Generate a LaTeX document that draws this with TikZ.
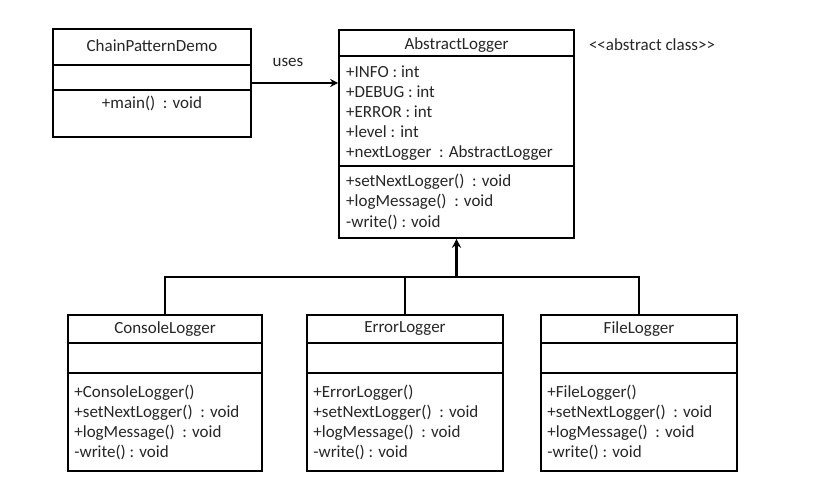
\documentclass[tikz,border=0pt]{standalone}
\usepackage{fontspec}
\setmainfont{Carlito}
\usetikzlibrary{arrows.meta}
\definecolor{txt}{HTML}{262626}
\tikzset{
  box/.style={draw=black, line width=1.6pt, fill=white, inner sep=0pt},
  divider/.style={draw=black, line width=1.6pt},
  title/.style={text=txt, font=\fontsize{17}{20}\selectfont, inner sep=0pt},
  member/.style={text=txt, font=\fontsize{17}{20}\selectfont, inner sep=0pt, anchor=west},
  conn/.style={draw=black, line width=1.7pt},
}
\begin{document}
\begin{tikzpicture}[x=1pt,y=-1pt]
\useasboundingbox (0,0) rectangle (814,494);
% ChainPatternDemo
\node[box, minimum width=198pt, minimum height=108pt] (demo) at (152,83) {};
\draw[divider] (demo.west |- 0,65) -- (demo.east |- 0,65);
\draw[divider] (demo.west |- 0,90) -- (demo.east |- 0,90);
\node[title] (demoT) at (152,46) {ChainPatternDemo};
\node[title] (demoM) at (152,103) {+main()\ \ : void};
% AbstractLogger
\node[box, minimum width=235pt, minimum height=208pt] (abs) at (456.5,134) {};
\draw[divider] (abs.west |- 0,56) -- (abs.east |- 0,56);
\draw[divider] (abs.west |- 0,166) -- (abs.east |- 0,166);
\node[title] (absT) at (456.5,45) {AbstractLogger};
\node[member] (a1) at (346,72) {+INFO\ : int};
\node[member] (a2) at (346,92) {+DEBUG\ : int};
\node[member] (a3) at (346,112) {+ERROR\ : int};
\node[member] (a4) at (346,132) {+level\ : int};
\node[member] (a5) at (346,153) {+nextLogger\ \ : AbstractLogger};
\node[member] (a6) at (346,182) {+setNextLogger()\ \ : void};
\node[member] (a7) at (346,202) {+logMessage()\ \ : void};
\node[member] (a8) at (346,222) {-write() : void};
\node[title] (stereo) at (652,45) {<{}<abstract class>{}>};
% uses
\draw[conn, -{Stealth[length=8pt,width=8pt]}] (demo.east) -- (demo.east -| abs.west);
\node[title] (uses) at (288,62) {uses};
% subclasses
\foreach \n/\cx/\w/\nm in {console/165/194/ConsoleLogger, error/405/196/ErrorLogger, file/639/196/FileLogger}{
  \node[box, minimum width=\w pt, minimum height=156pt] (\n) at (\cx,393) {};
  \draw[divider] (\n.west |- 0,343) -- (\n.east |- 0,343);
  \draw[divider] (\n.west |- 0,373) -- (\n.east |- 0,373);
  \node[title] (\n T) at (\cx,329) {\nm};
  \node[member] (\n 1) at ([xshift=7pt]\n.west |- 0,393) {+\nm()};
  \node[member] (\n 2) at ([xshift=7pt]\n.west |- 0,413) {+setNextLogger()\ \ : void};
  \node[member] (\n 3) at ([xshift=7pt]\n.west |- 0,433) {+logMessage()\ \ : void};
  \node[member] (\n 4) at ([xshift=7pt]\n.west |- 0,452) {-write() : void};
}
% inheritance
\coordinate (j) at (abs.south |- 0,277);
\draw[conn] (console.north) |- (j);
\draw[conn] (file.north) |- (j);
\draw[conn] (error.north) -- (error.north |- j);
\draw[draw=black, line width=2.8pt, -{Stealth[length=9pt,width=9pt]}] (j) -- (abs.south);
\end{tikzpicture}
\end{document}
